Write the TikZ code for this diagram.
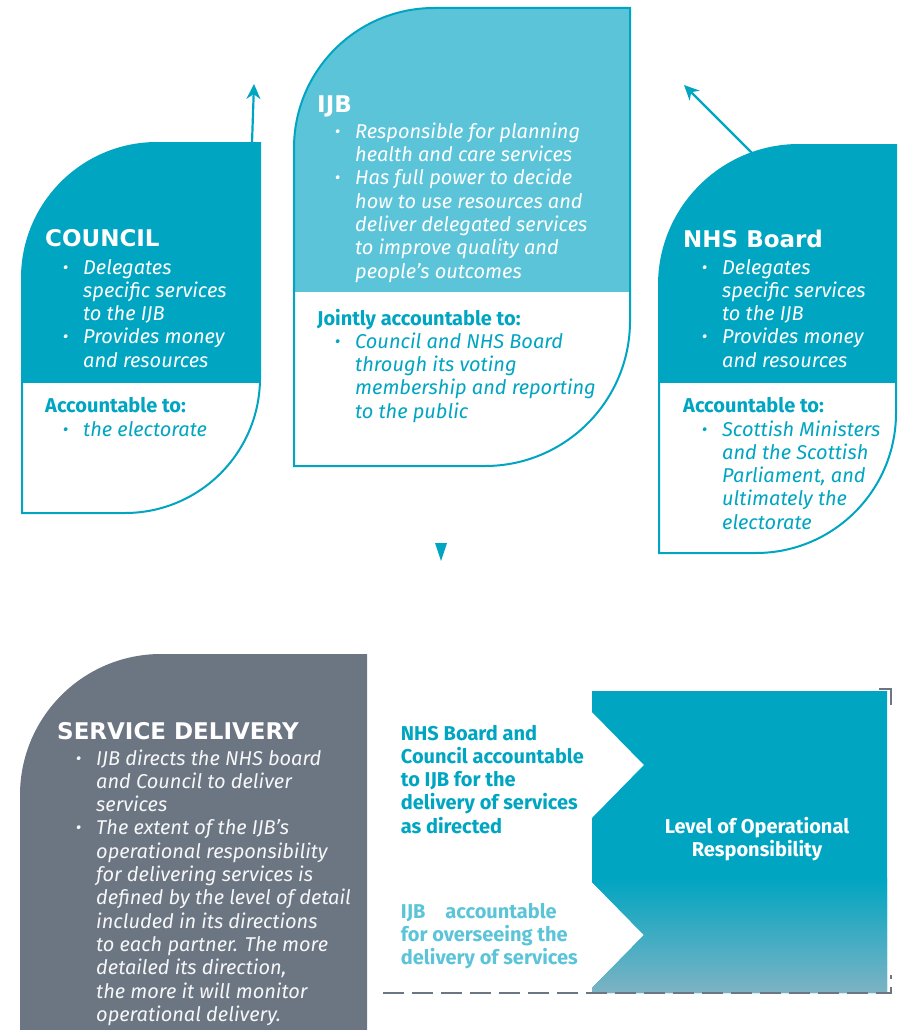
\documentclass[tikz,border=0pt]{standalone}
\usepackage{fontspec}
\setmainfont{Fira Sans}
\newfontfamily\titolofont{DejaVu Sans}
\usetikzlibrary{arrows.meta}

\definecolor{ijbdark}{HTML}{00A5C2}
\definecolor{ijblight}{HTML}{5BC4D8}
\definecolor{sdgrey}{HTML}{6C7582}
\definecolor{opfade}{HTML}{7FB3C3}

\newcommand{\bul}{\llap{\raisebox{1pt}{\fontsize{17}{17}\selectfont\textbullet}\hspace{15pt}}}
\newcommand{\elenco}[1]{\begin{tabular}[t]{@{}l@{}}#1\end{tabular}}

% forme dei riquadri
\newcommand{\formaCouncil}{(22,-513) -- (22,-278) arc[start angle=180,end angle=90,radius=135] -- (260,-143) -- (260,-378) arc[start angle=0,end angle=-90,radius=135] -- cycle}
\newcommand{\formaIJB}{(294,-466) -- (294,-148) arc[start angle=180,end angle=90,radius=140] -- (630,-8) -- (630,-321) arc[start angle=0,end angle=-90,radius=145] -- cycle}
\newcommand{\formaNHS}{(659,-553) -- (659,-285) arc[start angle=180,end angle=90,radius=140] -- (896,-145) -- (896,-413) arc[start angle=0,end angle=-90,radius=140] -- cycle}
\newcommand{\formaLivello}{(592,-691) -- (887,-691) -- (887,-993) -- (592,-993) -- (592,-988) -- (644,-935) -- (592,-882) -- (592,-818) -- (644,-765) -- (592,-712) -- cycle}

\tikzset{
  bordo/.style={draw=ijbdark, line width=2pt},
  titolo/.style={anchor=base west, inner sep=0pt, text=white, font=\fontsize{23}{28}\selectfont\titolofont\bfseries},
  voce/.style={anchor=base west, inner sep=0pt, font=\fontsize{20}{23.3}\selectfont\itshape},
  resp/.style={anchor=base west, inner sep=0pt, font=\fontsize{20}{23.3}\selectfont\bfseries},
  freccia/.style={ijbdark, line width=2.2pt, -{Stealth[length=15pt,width=14pt]}},
  tratto/.style={sdgrey, line width=2pt, dash pattern=on 21pt off 8pt},
}

\begin{document}
\begin{tikzpicture}[x=1pt,y=1pt]
    \useasboundingbox (0,0) rectangle (899,-1030);

    % Riquadri in alto
    \fill[white] \formaCouncil;
    \begin{scope}
        \clip \formaCouncil;
        \fill[ijbdark] (0,-130) rectangle (300,-383);
    \end{scope}
    \draw[bordo] \formaCouncil;

    \fill[white] \formaIJB;
    \begin{scope}
        \clip \formaIJB;
        \fill[ijblight] (280,0) rectangle (640,-292);
    \end{scope}
    \draw[bordo] \formaIJB;

    \fill[white] \formaNHS;
    \begin{scope}
        \clip \formaNHS;
        \fill[ijbdark] (650,-130) rectangle (899,-383);
    \end{scope}
    \draw[bordo] \formaNHS;

    % Frecce
    \coordinate (councilTop) at (252,-143);
    \coordinate (councilTip) at (254,-84);
    \coordinate (nhsTop) at (752,-153);
    \coordinate (nhsTip) at (684,-85);
    \draw[freccia] (councilTop) -- (councilTip);
    \draw[freccia] (nhsTop) -- (nhsTip);
    \fill[ijbdark] (435,-543) -- (447,-543) -- (441,-561) -- cycle;

    % Testi COUNCIL
    \node[titolo] (council) at (45,-246) {COUNCIL};
    \node[voce, text=white] (councilList) at (83,-274)
        {\elenco{\bul Delegates\\ specific services\\ to the IJB\\ \bul Provides money\\ and resources}};
    \node[resp, text=ijbdark] (councilAcc) at (45,-412.7) {Accountable to:};
    \node[voce, text=ijbdark] (councilAccList) at (83,-436) {\elenco{\bul the electorate}};

    % Testi IJB
    \node[titolo] (ijb) at (317,-113) {IJB};
    \node[voce, text=white] (ijbList) at (355,-138.3)
        {\elenco{\bul Responsible for planning\\ health and care services\\ \bul Has full power to decide\\ how to use resources and\\ deliver delegated services\\ to improve quality and\\ people's outcomes}};
    \node[resp, text=ijbdark] (ijbAcc) at (317,-325) {Jointly accountable to:};
    \node[voce, text=ijbdark] (ijbAccList) at (355,-348.3)
        {\elenco{\bul Council and NHS Board\\ through its voting\\ membership and reporting\\ to the public}};

    % Testi NHS Board
    \node[titolo] (nhs) at (683,-247) {NHS Board};
    \node[voce, text=white] (nhsList) at (722,-274)
        {\elenco{\bul Delegates\\ specific services\\ to the IJB\\ \bul Provides money\\ and resources}};
    \node[resp, text=ijbdark] (nhsAcc) at (683,-412.7) {Accountable to:};
    \node[voce, text=ijbdark] (nhsAccList) at (722,-436)
        {\elenco{\bul Scottish Ministers\\ and the Scottish\\ Parliament, and\\ ultimately the\\ electorate}};

    % Service delivery
    \fill[sdgrey] (20,-1040) -- (20,-795) arc[start angle=180,end angle=90,radius=141] -- (367,-654) -- (367,-1040) -- cycle;
    \node[titolo] (service) at (57,-739) {SERVICE DELIVERY};
    \node[voce, text=white!94!sdgrey] (serviceList) at (96,-765)
        {\elenco{\bul IJB directs the NHS board\\ and Council to deliver\\ services\\ \bul The extent of the IJB’s\\ operational responsibility\\ for delivering services is\\ defined by the level of detail\\ included in its directions\\ to each partner. The more\\ detailed its direction,\\ the more it will monitor\\ operational delivery.}};

    % Livello di responsabilita
    \begin{scope}
        \clip \formaLivello;
        \fill[ijbdark] (580,-680) rectangle (899,-1000);
        \shade[top color=ijbdark, bottom color=opfade] (580,-878) rectangle (899,-995);
    \end{scope}
    \draw[tratto] (383,-993) -- (891,-993) -- (891,-975);
    \draw[sdgrey, line width=2pt] (879,-689) -- (891,-689) -- (891,-705);

    \node[resp, text=ijbdark] (directed) at (400.7,-740)
        {\elenco{NHS Board and\\ Council accountable\\ to IJB for the\\ delivery of services\\ as directed}};
    \node[resp, text=ijblight] (overseeing) at (400.7,-918.3)
        {\elenco{IJB\quad accountable\\ for overseeing the\\ delivery of services}};
    \node[resp, anchor=base, text=white] (level) at (757,-833.3)
        {\begin{tabular}[t]{@{}c@{}}Level of Operational\\ Responsibility\end{tabular}};

\end{tikzpicture}
\end{document}
